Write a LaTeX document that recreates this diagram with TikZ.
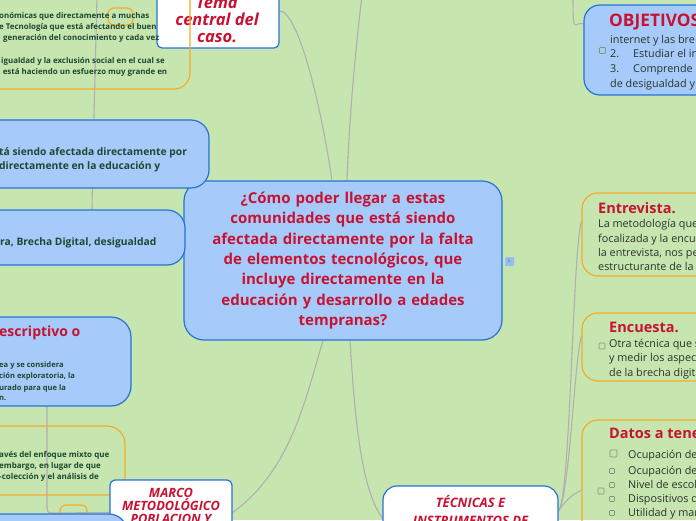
\documentclass[tikz,border=0pt]{standalone}
\usepackage{fontspec}
\setmainfont{Open Sans}
\pgfdeclarelayer{bgfill}
\pgfdeclarelayer{background}
\pgfsetlayers{bgfill,background,main}
\definecolor{bg}{RGB}{199,230,175}
\definecolor{bfill}{RGB}{166,203,250}
\definecolor{bdraw}{RGB}{36,114,219}
\definecolor{orng}{RGB}{247,170,40}
\definecolor{conn}{RGB}{176,176,176}
\definecolor{crim}{RGB}{200,18,50}
\definecolor{dgreen}{RGB}{28,72,50}
\definecolor{body}{RGB}{40,50,44}
\definecolor{chkc}{RGB}{120,150,120}
\definecolor{jlblue}{RGB}{150,190,245}
\tikzset{
  bluebox/.style={draw=bdraw, fill=bfill, line width=1.2pt, rounded corners=18pt, inner sep=0pt},
  whitebox/.style={draw=bdraw, fill=white, line width=1.2pt, rounded corners=5pt, inner sep=0pt},
  orangebox/.style={draw=orng, line width=1.2pt, rounded corners=16pt, inner sep=0pt},
  connector/.style={draw=conn, line width=1.1pt},
  lefttxt/.style={anchor=base west, inner sep=0pt, text=dgreen, font=\fontsize{10.3}{11}\selectfont\bfseries},
  smalltxt/.style={anchor=base west, inner sep=0pt, text=dgreen, font=\fontsize{7.9}{9}\selectfont\bfseries},
  tinytxt/.style={anchor=base west, inner sep=0pt, text=dgreen, font=\fontsize{7.6}{8}\selectfont\bfseries},
  righttxt/.style={anchor=base west, inner sep=0pt, text=body, font=\fontsize{10.8}{12}\selectfont},
  titletxt/.style={anchor=base west, inner sep=0pt, text=crim, font=\fontsize{14.5}{16}\selectfont\bfseries},
  topictxt/.style={anchor=base, inner sep=0pt, text=crim, font=\fontsize{12.8}{14}\selectfont\bfseries\itshape},
  chk/.style={draw=chkc, line width=0.6pt, rounded corners=0.8pt, minimum size=#1, inner sep=0pt},
  chk/.default=6pt
}
\begin{document}
\begin{tikzpicture}[x=1pt,y=-1pt]
\useasboundingbox (0,0) rectangle (696,520);
\clip (0,0) rectangle (696,520);
\begin{pgfonlayer}{bgfill}
\fill[bg] (0,0) rectangle (696,520);
\end{pgfonlayer}

% ---- free connector ends
\coordinate (topA) at (362,-5);
\coordinate (topB) at (573,-5);
\coordinate (topC) at (97,-5);

% ---- central topic
\node[bluebox, rounded corners=20pt, minimum width=318pt, minimum height=159pt,
      text width=300pt, align=center, text=crim,
      font=\fontsize{15}{20.4}\selectfont\bfseries] (center) at (343,260.5)
 {¿Cómo poder llegar a estas\\comunidades que está siendo\\afectada directamente por la falta\\de elementos tecnológicos, que\\incluye directamente en la\\educación y desarrollo a edades\\tempranas?};

% ---- Tema central del caso
\node[whitebox, minimum width=122pt, minimum height=68pt] (tema) at (218,14) {};
\node[topictxt, font=\fontsize{16.5}{17}\selectfont\bfseries\itshape] (tema1) at (217,8) {Tema};
\node[topictxt, font=\fontsize{16.5}{17}\selectfont\bfseries\itshape] (tema2) at (217,25) {central del};
\node[topictxt, font=\fontsize{16.5}{17}\selectfont\bfseries\itshape] (tema3) at (217,42) {caso.};

% ---- top-left orange box
\node[orangebox, minimum width=230pt, minimum height=109pt] (ob1) at (75,34.5) {};
\node[orangebox, rounded corners=6pt, minimum width=25pt, minimum height=17pt] (ob1tag) at (120.5,16.5) {};
\node[smalltxt] (ob1a) at (-1,18) {onómicas que directamente a muchas};
\node[smalltxt] (ob1b) at (-1,29) {e Tecnología que está afectando el buen};
\node[smalltxt] (ob1c) at (3,40) {generación del conocimiento y cada vez};
\node[smalltxt] (ob1d) at (1,63) {igualdad y la exclusión social en el cual se};
\node[smalltxt] (ob1e) at (-4.5,74) {C está haciendo un esfuerzo muy grande en};

% ---- blue box 5
\node[bluebox, minimum width=249pt, minimum height=68pt] (b5) at (84.5,154) {};
\node[lefttxt] (b5a) at (-1,155.5) {tá siendo afectada directamente por};
\node[lefttxt] (b5b) at (-1,169) {directamente en la educación y};

% ---- blue box 6
\node[bluebox, minimum width=225pt, minimum height=55pt] (b6) at (72.5,237.5) {};
\node[lefttxt] (b6a) at (0,245.5) {ra, Brecha Digital, desigualdad};

% ---- blue box 7
\node[bluebox, rounded corners=20pt, minimum width=171pt, minimum height=89pt] (b7) at (45.5,361.5) {};
\node[titletxt, font=\fontsize{14}{16}\selectfont\bfseries] (b7t) at (-1,336) {escriptivo o};
\node[tinytxt] (b7a) at (-1,367) {ea y se considera};
\node[tinytxt] (b7b) at (-1,378.5) {ción exploratoria, la};
\node[tinytxt] (b7c) at (-1,390) {urado para que la};
\node[tinytxt] (b7d) at (-1,400) {n.};

% ---- orange box 8
\node[orangebox, rounded corners=18pt, minimum width=165pt, minimum height=69pt] (o8) at (42.5,460.5) {};
\node[tinytxt, font=\fontsize{8}{9}\selectfont\bfseries] (o8a) at (-1,457.5) {avés del enfoque mixto que};
\node[tinytxt, font=\fontsize{8}{9}\selectfont\bfseries] (o8b) at (-1,468.5) {embargo, en lugar de que};
\node[tinytxt, font=\fontsize{8}{9}\selectfont\bfseries] (o8c) at (-1,479.5) {-colección y el análisis de};
\node[orangebox, rounded corners=6pt, minimum width=27pt, minimum height=20pt] (o8tag) at (73.5,515) {};

% ---- MARCO METODOLOGICO
\node[whitebox, minimum width=122pt, minimum height=65pt] (marco) at (171,512.5) {};
\node[topictxt] (marco1) at (171,497) {MARCO};
\node[topictxt] (marco2) at (171,510) {METODOLÓGICO};
\node[topictxt] (marco3) at (171,523) {POBLACION Y};

% ---- bottom-left blue box
\node[bluebox, minimum width=167pt, minimum height=56pt] (b10) at (43.5,542) {};

% ---- TECNICAS E INSTRUMENTOS
\node[whitebox, rounded corners=14pt, minimum width=175pt, minimum height=74pt] (tec) at (470.5,523) {};
\node[topictxt, font=\fontsize{13}{14}\selectfont\bfseries\itshape] (tec1) at (470.5,507) {TÉCNICAS E};
\node[topictxt, font=\fontsize{13}{14}\selectfont\bfseries\itshape] (tec2) at (470.5,525) {INSTRUMENTOS DE};

% ---- OBJETIVOS
\node[bluebox, rounded corners=16pt, minimum width=136pt, minimum height=90pt] (obj) at (652,50) {};
\node[titletxt, font=\fontsize{17.3}{18}\selectfont\bfseries] (objt) at (609,26.5) {OBJETIVOS};
\node[chk] (objc) at (602.5,50.5) {};
\node[righttxt] (obja) at (610,43) {internet y las bre};
\node[righttxt] (objb1) at (610,57.5) {2.};
\node[righttxt] (objb2) at (633,57.5) {Estudiar el in};
\node[righttxt] (objc1) at (610,72.5) {3.};
\node[righttxt] (objc2) at (633,72.5) {Comprende};
\node[righttxt] (objd) at (610,87) {de desigualdad y};

% ---- JL tag
\node[fill=jlblue, rounded corners=1pt, minimum width=9pt, minimum height=9pt, inner sep=0pt,
      text=gray, font=\fontsize{5}{5}\selectfont] (jl) at (509.5,261.5) {JL};

% ---- Entrevista
\node[orangebox, minimum width=138pt, minimum height=83pt] (ent) at (651,234.5) {};
\node[titletxt] (entt) at (598,213) {Entrevista.};
\node[righttxt] (enta) at (598,227.5) {La metodología que};
\node[righttxt] (entb) at (598,242) {focalizada y la encue};
\node[righttxt] (entc) at (598,256) {la entrevista, nos pe};
\node[righttxt] (entd) at (598,270) {estructurante de la v};

% ---- Encuesta
\node[orangebox, minimum width=138pt, minimum height=68pt] (enc) at (651,347) {};
\node[titletxt] (enct) at (609,332) {Encuesta.};
\node[chk] (encchk) at (602,346) {};
\node[righttxt] (enca) at (609,347.5) {Otra técnica que s};
\node[righttxt] (encb) at (609,361.5) {y medir los aspect};
\node[righttxt] (encc) at (609,376) {de la brecha digita};

% ---- Datos a tener
\node[orangebox, minimum width=138pt, minimum height=140pt] (dat) at (651,490) {};
\node[titletxt] (datt) at (609,438) {Datos a tener};
\node[chk] (datg) at (601,491) {};
\node[chk=7pt] (dat1c) at (613.5,453.5) {};
\node[chk=5pt] (dat2c) at (612,471) {};
\node[chk=5pt] (dat3c) at (612,485) {};
\node[chk=5pt] (dat4c) at (612,499) {};
\node[chk=5pt] (dat5c) at (612,513) {};
\node[righttxt] (dat1) at (628,458) {Ocupación de};
\node[righttxt] (dat2) at (628,474.5) {Ocupación de};
\node[righttxt] (dat3) at (628,488.5) {Nivel de escol};
\node[righttxt] (dat4) at (628,502.5) {Dispositivos q};
\node[righttxt] (dat5) at (628,516.5) {Utilidad y mar};

% ---- connectors, behind the boxes
\begin{pgfonlayer}{background}
\path[connector] ([xshift=-11pt]center.north) .. controls +(-12,-81) and +(18,0) .. ([yshift=3pt]tema.east);
\path[connector] ([xshift=4pt]center.north) .. controls +(3,-81) and +(-4,35) .. (topA);
\path[connector] ([yshift=26pt]obj.west) .. controls +(-9,-4) and +(0,45) .. (topB);
\path[connector] ([xshift=7pt]center.south) .. controls +(5,80) and +(-21,-28) .. ([yshift=5pt]tec.west);
\path[connector] ([xshift=-20pt]center.south) .. controls +(-18,60) and +(58,-42) .. (marco.east);
\path[connector] (topC) .. controls +(-2,85) and +(1,-62) .. (b6.north -| 92,0);
\path[connector] (marco.west) -- (52,513) .. controls (48,513) and (47,511) .. (47,509) -- (b7.south -| 47,0);
\path[connector] ([yshift=12pt]tec.east) .. controls +(12,-15) and +(-9,32) .. ([yshift=13.5pt]ent.west);
\path[connector] ([yshift=12pt]tec.east) .. controls +(11,-15) and +(-7,23) .. ([yshift=11pt]enc.west);
\path[connector] ([yshift=12pt]tec.east) .. controls +(10,-15) and +(-8,5) .. (dat.west);
\end{pgfonlayer}
\end{tikzpicture}
\end{document}
